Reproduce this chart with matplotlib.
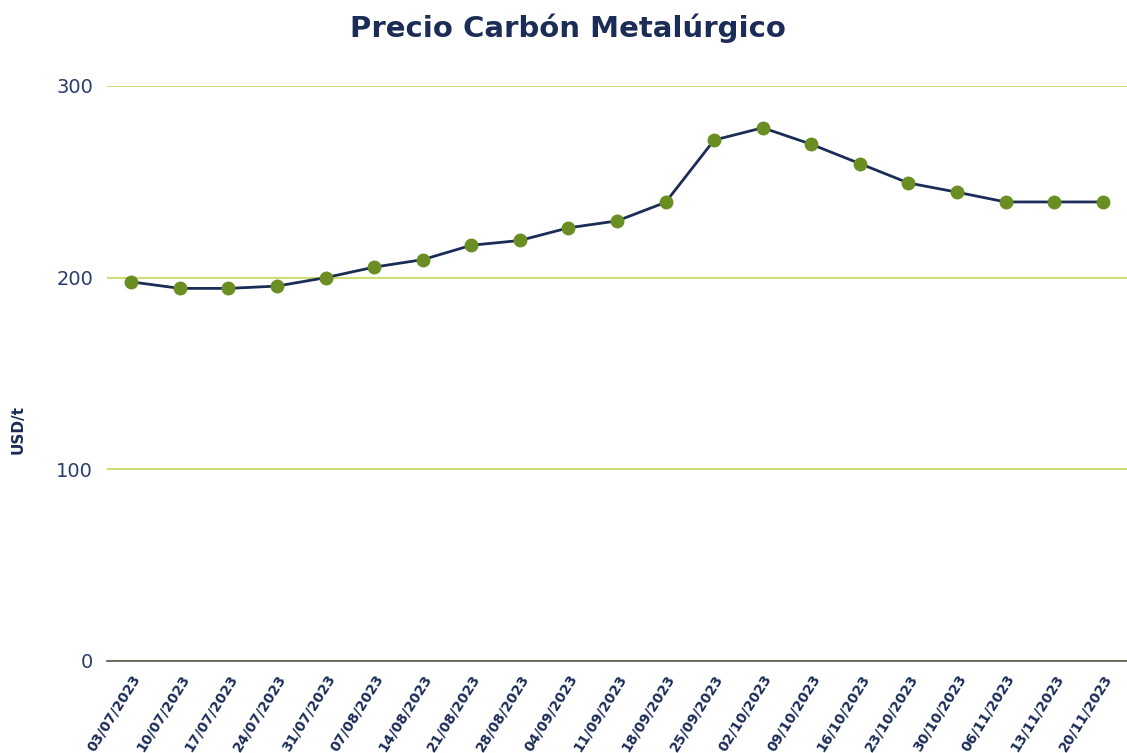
import matplotlib.pyplot as plt

dates = [
    "03/07/2023", "10/07/2023", "17/07/2023", "24/07/2023", "31/07/2023",
    "07/08/2023", "14/08/2023", "21/08/2023", "28/08/2023", "04/09/2023",
    "11/09/2023", "18/09/2023", "25/09/2023", "02/10/2023", "09/10/2023",
    "16/10/2023", "23/10/2023", "30/10/2023", "06/11/2023", "13/11/2023",
    "20/11/2023",
]
prices = [
    197.8, 194.4, 194.4, 195.6, 200.0, 205.5, 209.4, 216.9, 219.4, 226.0,
    229.6, 239.3, 271.8, 278.2, 269.6, 259.5, 249.4, 244.6, 239.5, 239.5,
    239.5,
]
y_ticks = [0, 100, 200, 300]

NAVY = "#1b2d57"
GREEN = "#6b8e23"
GRID = "#cddd78"


def main():
    fig = plt.figure(figsize=(11.27, 7.53), dpi=100)
    ax = fig.add_axes([0.095, 0.1222, 0.905, 0.7636])

    x = list(range(len(dates)))
    ax.plot(x, prices, color=NAVY, linewidth=2, zorder=3)
    ax.plot(x, prices, linestyle="none", marker="o", markersize=9,
            color=GREEN, zorder=4)

    ax.set_xlim(-0.5, len(dates) - 0.5)
    ax.set_ylim(0, 300)
    ax.set_yticks(y_ticks)
    ax.set_yticklabels([str(v) for v in y_ticks], fontsize=14, color="#2a3d6a")
    ax.yaxis.grid(True, color=GRID, linewidth=1.5)
    ax.set_axisbelow(True)

    ax.set_xticks(x)
    ax.set_xticklabels(dates, rotation=58, ha="right", rotation_mode="anchor",
                       fontsize=10, fontweight="bold", color=NAVY)
    ax.tick_params(axis="x", length=0, pad=8)
    ax.tick_params(axis="y", length=0, pad=10)

    for side in ("top", "right", "left"):
        ax.spines[side].set_visible(False)
    ax.spines["bottom"].set_color("#555555")
    ax.spines["bottom"].set_linewidth(1.2)

    fig.text(0.016, 0.43, "USD/t", rotation=90, fontsize=11, fontweight="bold",
             color=NAVY, ha="center", va="center")
    fig.text(0.504, 0.963, "Precio Carbón Metalúrgico", fontsize=21,
             fontweight="bold", color=NAVY, ha="center", va="center")

    fig.savefig("out.png", dpi=100)
    plt.close(fig)


if __name__ == "__main__":
    main()
